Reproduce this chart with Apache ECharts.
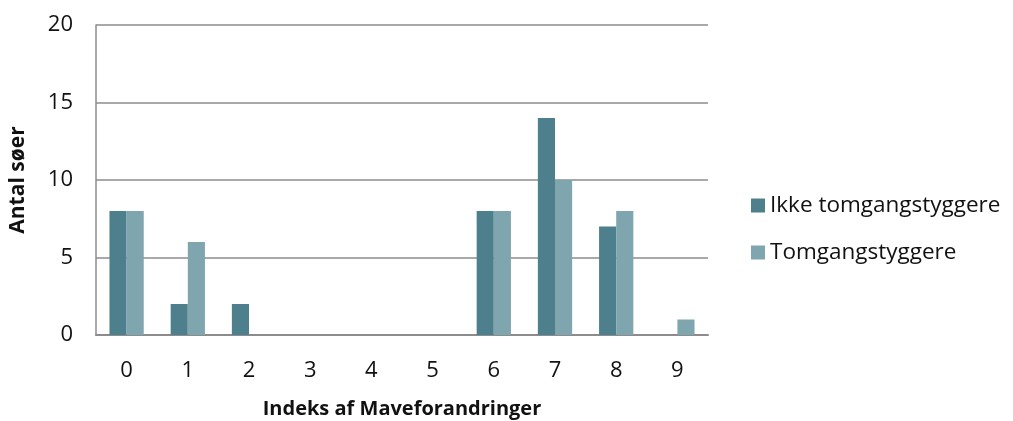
<!DOCTYPE html>
<html><head><meta charset="utf-8">
<script src="https://cdn.jsdelivr.net/npm/echarts@6/dist/echarts.min.js"></script>
<style>html,body{margin:0;padding:0;background:#fff}#c{width:1013px;height:421px}</style>
</head><body><div id="c"></div>
<script>
const categories = ['0','1','2','3','4','5','6','7','8','9'];
const ikke = [8,2,2,0,0,0,8,14,7,0];
const tom = [8,6,0,0,0,0,8,10,8,1];
const seriesNames = ['Ikke tomgangstyggere','Tomgangstyggere'];
const font = '"Open Sans", "Liberation Sans", sans-serif';
const chart = echarts.init(document.getElementById('c'));
chart.setOption({
  animation:false,
  grid:{left:96,right:305,top:25,bottom:86,containLabel:false,outerBoundsMode:'none'},
  legend:{orient:'vertical',left:746,top:189,itemWidth:14,itemHeight:14,itemGap:24,
    textStyle:{fontFamily:font,fontSize:22.5,color:'#111'},icon:'rect',
    data:seriesNames},
  xAxis:{type:'category',data:categories,
    axisLine:{lineStyle:{color:'#8c8c8c',width:2}},axisTick:{show:false},
    axisLabel:{fontFamily:font,fontSize:22,color:'#111',margin:25},
    name:'Indeks af Maveforandringer',nameLocation:'middle',nameGap:64,
    nameTextStyle:{fontFamily:font,fontSize:20,fontWeight:'bold',color:'#111'}},
  yAxis:{type:'value',min:0,max:20,interval:5,
    axisLine:{show:true,lineStyle:{color:'#8c8c8c',width:1.5}},
    splitLine:{lineStyle:{color:'#8c8c8c',width:1.5}},
    axisLabel:{fontFamily:font,fontSize:22,color:'#111',margin:23},
    name:'Antal søer',nameLocation:'middle',nameGap:67,
    nameTextStyle:{fontFamily:font,fontSize:21,fontWeight:'bold',color:'#111'}},
  series:[
    {name:seriesNames[0],type:'bar',data:ikke,barGap:'0%',barCategoryGap:'44%',
     itemStyle:{color:'#4e7f8c'}},
    {name:seriesNames[1],type:'bar',data:tom,
     itemStyle:{color:'#7fa5ae'}}
  ]
});
</script></body></html>
